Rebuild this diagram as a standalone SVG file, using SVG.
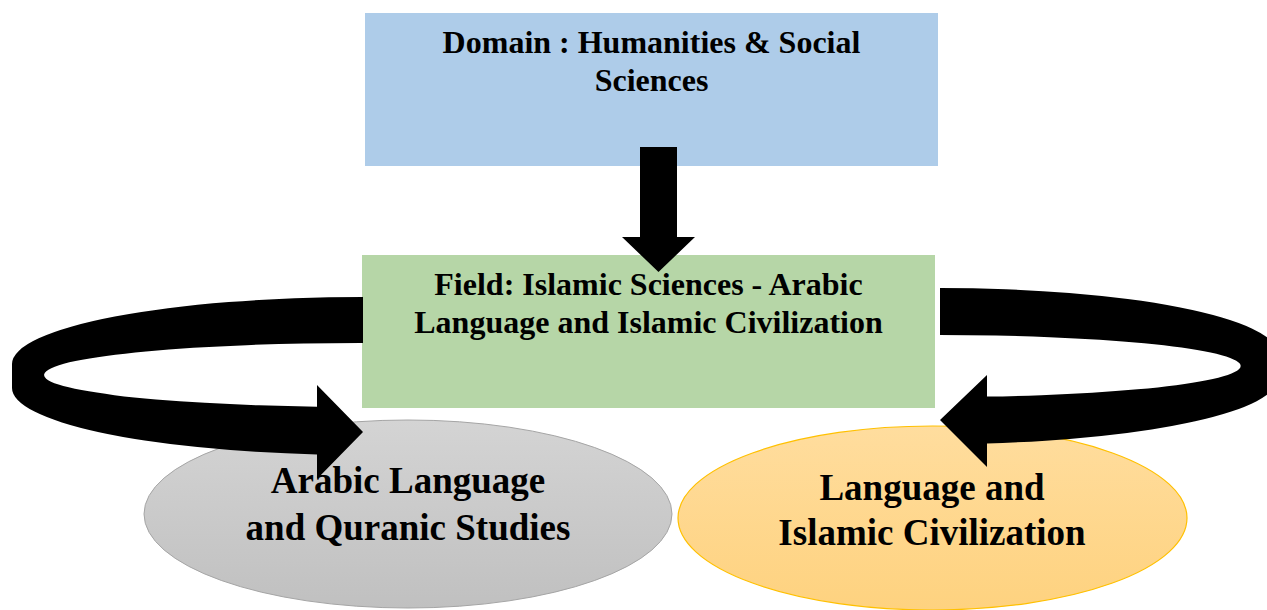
<svg xmlns="http://www.w3.org/2000/svg" width="1267" height="610" viewBox="0 0 1267 610">
<defs>
<linearGradient id="gGray" x1="0" y1="0" x2="0" y2="1"><stop offset="0" stop-color="#d4d4d4"/><stop offset="1" stop-color="#c0c0c0"/></linearGradient>
<linearGradient id="gOrange" x1="0" y1="0" x2="0" y2="1"><stop offset="0" stop-color="#ffdd9e"/><stop offset="1" stop-color="#fed27f"/></linearGradient>
</defs>
<style>
.t{font-family:"Liberation Serif","Times New Roman",serif;font-weight:bold;fill:#000;text-anchor:middle}
.s32{font-size:32px}
.s37{font-size:37px}
.arrow{fill:#000}
</style>
<rect width="1267" height="610" fill="#fff"/>
<g id="domain">
<rect x="365" y="13" width="573" height="153" fill="#aecce9"/>
<text class="t s32" x="651.5" y="53">Domain : Humanities &amp; Social</text>
<text class="t s32" x="651.5" y="91">Sciences</text>
</g>
<g id="field">
<rect x="362" y="255" width="573" height="153" fill="#b6d6a7"/>
<text class="t s32" x="648.5" y="295">Field: Islamic Sciences - Arabic</text>
<text class="t s32" x="648.5" y="333">Language and Islamic Civilization</text>
</g>
<g id="arabic">
<ellipse cx="408" cy="514" rx="264" ry="94" fill="url(#gGray)" stroke="#a5a5a5" stroke-width="1"/>
<text class="t s37" x="408" y="493">Arabic Language</text>
<text class="t s37" x="408" y="540">and Quranic Studies</text>
</g>
<g id="civilization">
<ellipse cx="932.5" cy="518" rx="254.5" ry="92" fill="url(#gOrange)" stroke="#ffc000" stroke-width="1.2"/>
<text class="t s37" x="932" y="500">Language and</text>
<text class="t s37" x="932" y="545">Islamic Civilization</text>
</g>
<g id="connectors">
<path class="arrow" d="M640,147 L677,147 L677,237 L695,237 L658.5,272 L622,237 L640,237 Z"/>
<path class="arrow" d="M363,297 A351,67 0 0 0 12,364 L12,388 A351,67 0 0 0 317,454.4 L317,479 L363,432 L317,385 L317,406.7 A316,32 0 0 1 363,343 Z"/>
<path class="arrow" d="M940,288 A338,66 0 0 1 1278,354 L1278,378 A338,66 0 0 1 987,443.4 L987,467 L940,420 L987,375 L987,396.6 A302,31 0 0 0 940,335 Z"/>
</g>
</svg>
